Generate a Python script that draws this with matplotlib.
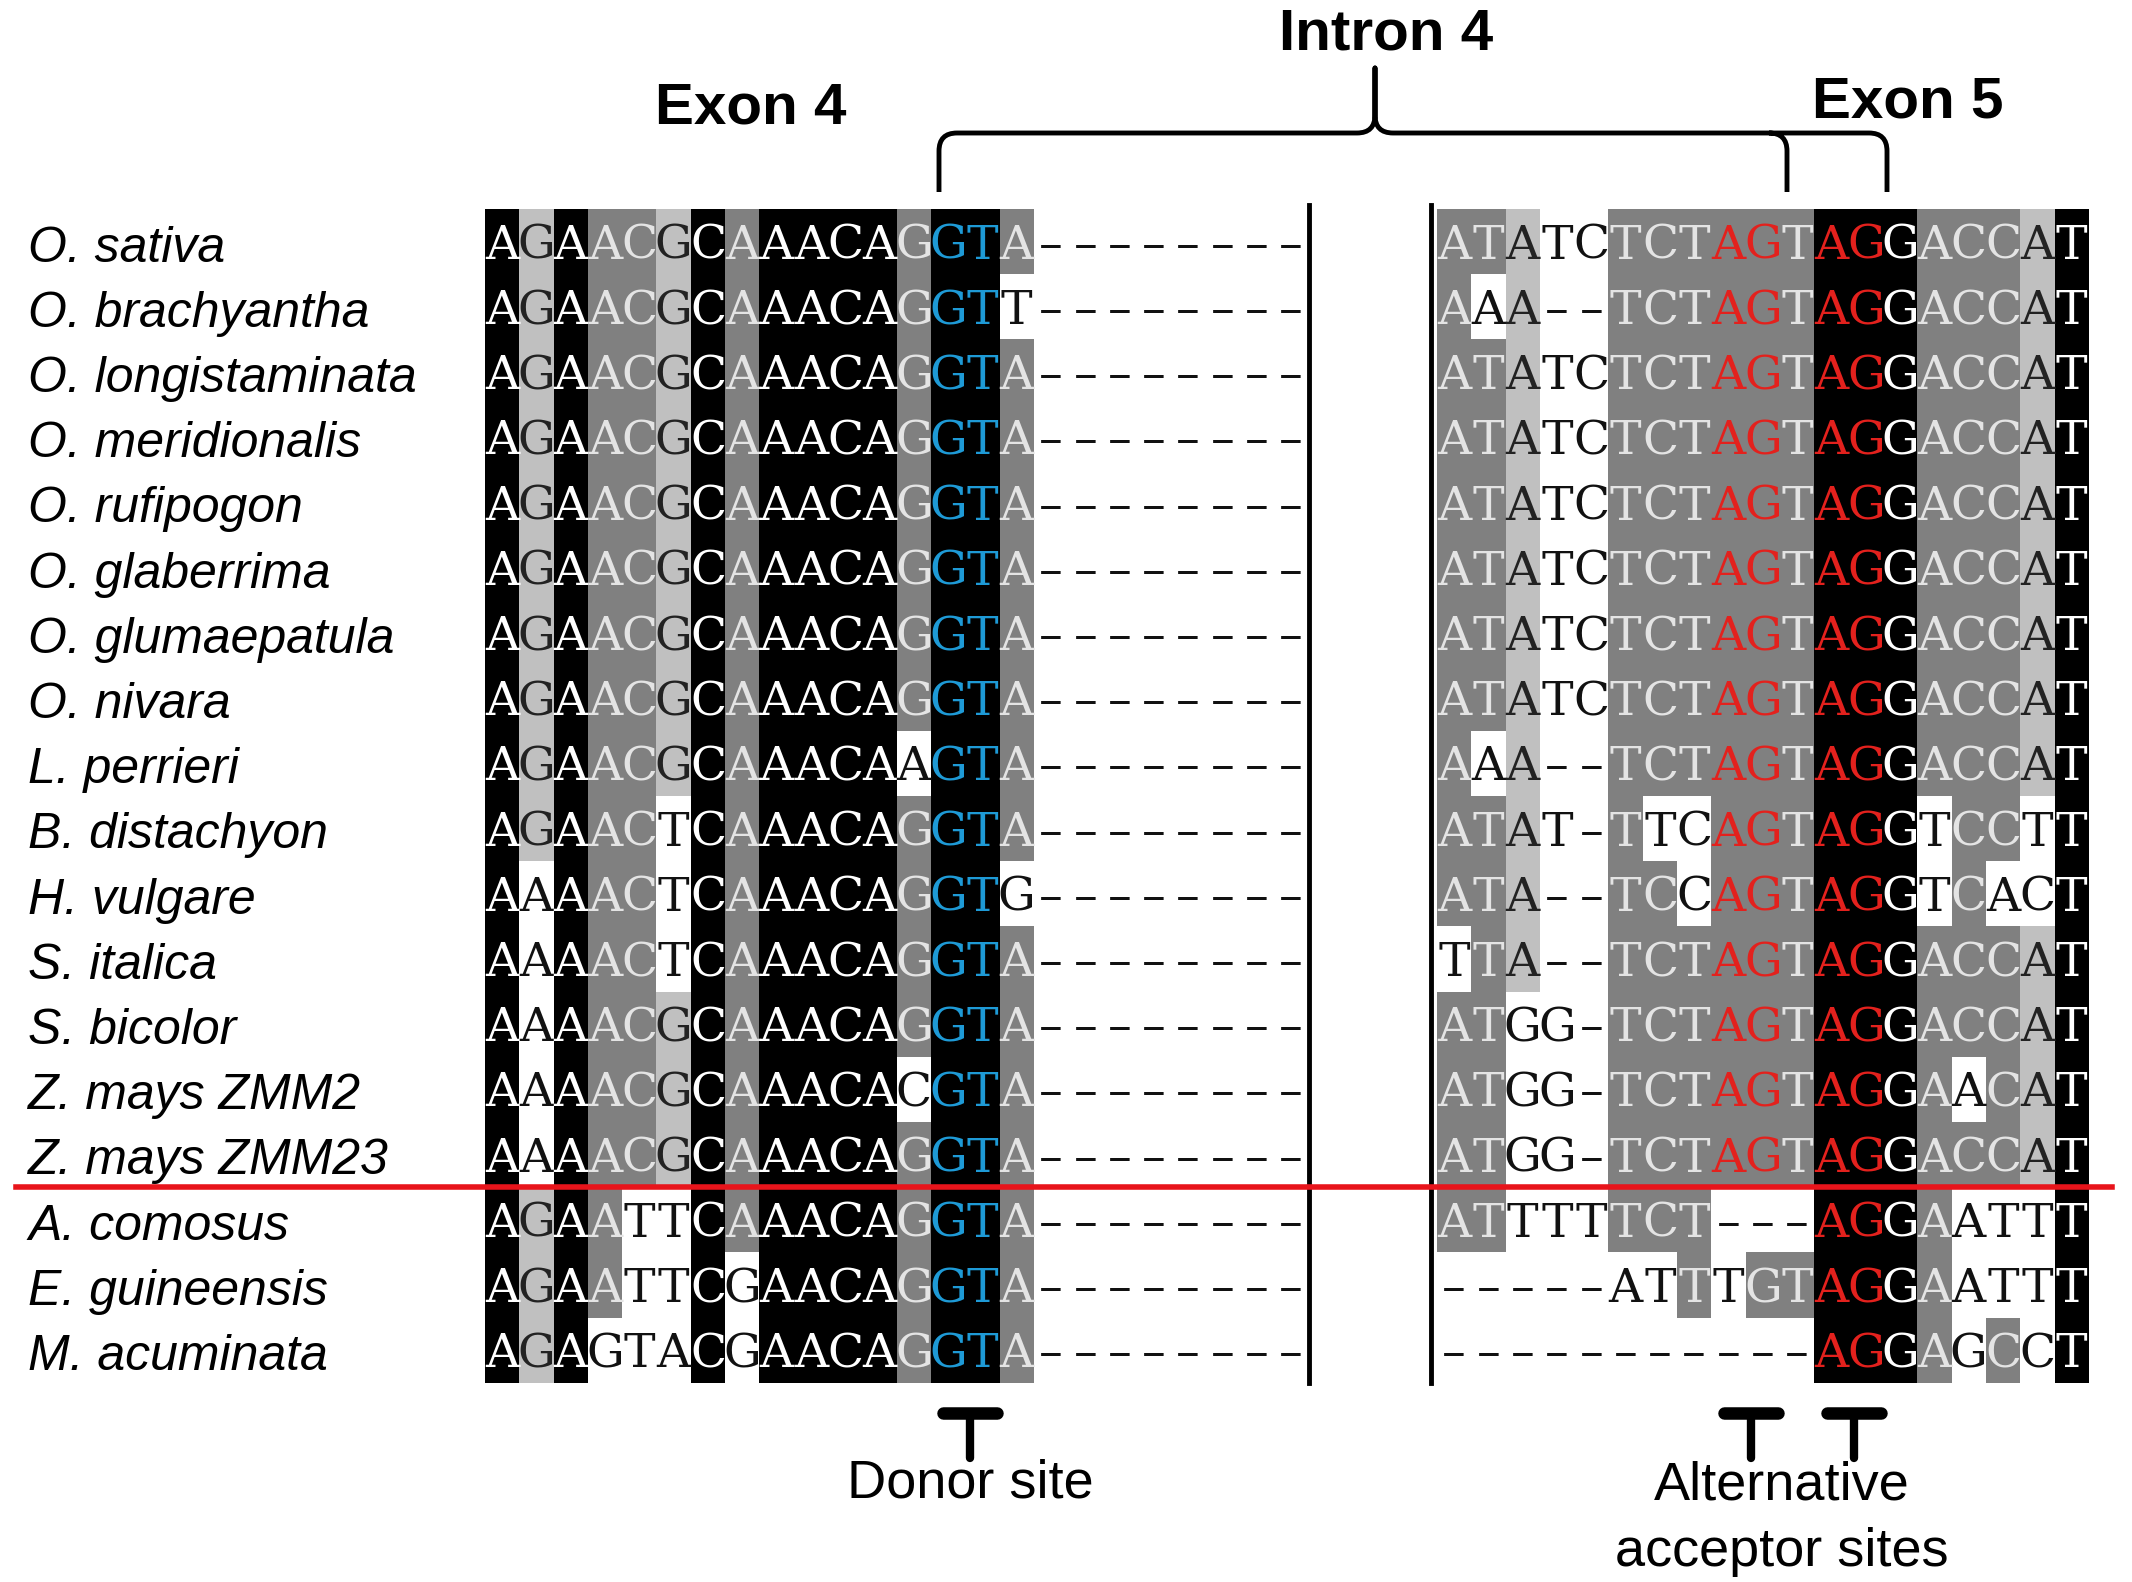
import numpy as np
import matplotlib.pyplot as plt
from matplotlib.colors import ListedColormap
from matplotlib.path import Path
from matplotlib.patches import PathPatch

species = ['O. sativa', 'O. brachyantha', 'O. longistaminata', 'O. meridionalis',
           'O. rufipogon', 'O. glaberrima', 'O. glumaepatula', 'O. nivara',
           'L. perrieri', 'B. distachyon', 'H. vulgare', 'S. italica', 'S. bicolor',
           'Z. mays ZMM2', 'Z. mays ZMM23', 'A. comosus', 'E. guineensis', 'M. acuminata']

# end of exon 4 + start of intron 4 (shading: K black, D dark grey, L light grey, W white)
left_seq = ['AGAACGCAAACAGGTA', 'AGAACGCAAACAGGTT', 'AGAACGCAAACAGGTA', 'AGAACGCAAACAGGTA',
            'AGAACGCAAACAGGTA', 'AGAACGCAAACAGGTA', 'AGAACGCAAACAGGTA', 'AGAACGCAAACAGGTA',
            'AGAACGCAAACAAGTA', 'AGAACTCAAACAGGTA', 'AAAACTCAAACAGGTG', 'AAAACTCAAACAGGTA',
            'AAAACGCAAACAGGTA', 'AAAACGCAAACACGTA', 'AAAACGCAAACAGGTA', 'AGAATTCAAACAGGTA',
            'AGAATTCGAACAGGTA', 'AGAGTACGAACAGGTA']
left_shade = ['KLKDDLKDKKKKDKKD', 'KLKDDLKDKKKKDKKW', 'KLKDDLKDKKKKDKKD', 'KLKDDLKDKKKKDKKD',
              'KLKDDLKDKKKKDKKD', 'KLKDDLKDKKKKDKKD', 'KLKDDLKDKKKKDKKD', 'KLKDDLKDKKKKDKKD',
              'KLKDDLKDKKKKWKKD', 'KLKDDWKDKKKKDKKD', 'KWKDDWKDKKKKDKKW', 'KWKDDWKDKKKKDKKD',
              'KWKDDLKDKKKKDKKD', 'KWKDDLKDKKKKWKKD', 'KWKDDLKDKKKKDKKD', 'KLKDWWKDKKKKDKKD',
              'KLKDWWKWKKKKDKKD', 'KLKWWWKWKKKKDKKD']
left_gap = '--------'

# end of intron 4 + start of exon 5
right_seq = ['ATATCTCTAGTAGGACCAT', 'AAA--TCTAGTAGGACCAT', 'ATATCTCTAGTAGGACCAT',
             'ATATCTCTAGTAGGACCAT', 'ATATCTCTAGTAGGACCAT', 'ATATCTCTAGTAGGACCAT',
             'ATATCTCTAGTAGGACCAT', 'ATATCTCTAGTAGGACCAT', 'AAA--TCTAGTAGGACCAT',
             'ATAT-TTCAGTAGGTCCTT', 'ATA--TCCAGTAGGTCACT', 'TTA--TCTAGTAGGACCAT',
             'ATGG-TCTAGTAGGACCAT', 'ATGG-TCTAGTAGGAACAT', 'ATGG-TCTAGTAGGACCAT',
             'ATTTTTCT---AGGAATTT', '-----ATTTGTAGGAATTT', '-----------AGGAGCCT']
right_shade = ['DDLWWDDDDDDKKKDDDLK', 'DWLWWDDDDDDKKKDDDLK', 'DDLWWDDDDDDKKKDDDLK',
               'DDLWWDDDDDDKKKDDDLK', 'DDLWWDDDDDDKKKDDDLK', 'DDLWWDDDDDDKKKDDDLK',
               'DDLWWDDDDDDKKKDDDLK', 'DDLWWDDDDDDKKKDDDLK', 'DWLWWDDDDDDKKKDDDLK',
               'DDLWWDWWDDDKKKWDDWK', 'DDLWWDDWDDDKKKWDWWK', 'WDLWWDDDDDDKKKDDDLK',
               'DDWWWDDDDDDKKKDDDLK', 'DDWWWDDDDDDKKKDWDLK', 'DDWWWDDDDDDKKKDDDLK',
               'DDWWWDDDWWWKKKDWWWK', 'WWWWWWWDWDDKKKDWWWK', 'WWWWWWWWWWWKKKDWDWK']

donor_col = 13            # GT in left block
acceptor_cols = [8, 11]   # AG pairs in right block
n_grass = 15              # rows above the red line

shade_index = {'W': 0, 'L': 1, 'D': 2, 'K': 3}
shade_cmap = ListedColormap(['white', '#c0c0c0', '#808080', 'black'])
text_col = {'W': '#111111', 'L': '#222222', 'D': '#e4e4e4', 'K': '#ffffff'}
blue = '#1e9ad6'
red = '#e3211d'

W, H = 2132, 1582
fig = plt.figure(figsize=(W / 100, H / 100), dpi=100)
ax = fig.add_axes([0, 0, 1, 1])

cw, rh = 34.3, 65.2
y0 = 209
left_x0, right_x0 = 485, 1437
fs = 34
cap = 0.729 * fs * 100 / 72
nrows = len(species)


def draw_block(x0, seqs, shades, special_cols, motif, special_color, tail=''):
    grid = np.array([[shade_index[s] for s in row] for row in shades])
    ncol = grid.shape[1]
    ax.imshow(grid, cmap=shade_cmap, vmin=0, vmax=3, aspect='auto', interpolation='nearest',
              extent=(x0, x0 + ncol * cw, y0 + nrows * rh, y0))
    for r, (seq, sh) in enumerate(zip(seqs, shades)):
        hot = set()
        for c in special_cols:
            if seq[c:c + 2] == motif:
                hot.update([c, c + 1])
        full = seq + tail
        for c, ch in enumerate(full):
            if c < len(seq):
                colr = special_color if c in hot else text_col[sh[c]]
            else:
                colr = '#111111'
            ax.text(x0 + (c + 0.5) * cw, y0 + (r + 0.5) * rh + cap / 2,
                    '–' if ch == '-' else ch, ha='center', va='baseline',
                    fontsize=fs, family='DejaVu Serif', color=colr)


draw_block(left_x0, left_seq, left_shade, [donor_col], 'GT', blue, tail=left_gap)
draw_block(right_x0, right_seq, right_shade, acceptor_cols, 'AG', red)

# species names
for r, name in enumerate(species):
    ax.text(28, y0 + (r + 0.5) * rh + 20, name, ha='left', va='baseline', fontsize=36,
            style='italic', family='Liberation Sans', color='black')

# intron cut lines
for xv in [1309, 1431]:
    ax.plot([xv, xv], [y0 - 4, y0 + nrows * rh], color='black', lw=3.5)

# red separator between grasses and other monocots
ysep = y0 + n_grass * rh
ax.plot([16, 2112], [ysep, ysep], color='#e8141b', lw=4)

# brace over intron 4
xl, xc, xt, xr = 939, 1375, 1787, 1887
yl, yb, ytop, rr = 133, 192, 68, 18
verts = [(xl, yb), (xl, yl + rr), (xl, yl), (xl + rr, yl), (xc - rr, yl), (xc, yl), (xc, yl - rr),
         (xc, ytop), (xc, yl - rr), (xc, yl), (xc + rr, yl), (xr - rr, yl), (xr, yl), (xr, yl + rr),
         (xr, yb),
         (xt - rr, yl), (xt, yl), (xt, yl + rr), (xt, yb)]
codes = [Path.MOVETO, Path.LINETO, Path.CURVE3, Path.CURVE3, Path.LINETO, Path.CURVE3, Path.CURVE3,
         Path.LINETO, Path.LINETO, Path.CURVE3, Path.CURVE3, Path.LINETO, Path.CURVE3, Path.CURVE3,
         Path.LINETO,
         Path.MOVETO, Path.CURVE3, Path.CURVE3, Path.LINETO]
ax.add_patch(PathPatch(Path(verts, codes), facecolor='none', edgecolor='black', lw=3.5,
                       capstyle='butt', joinstyle='round'))

ax.text(1386, 49, 'Intron 4', ha='center', va='baseline', fontsize=42, fontweight='bold',
        family='Liberation Sans')
ax.text(751, 123, 'Exon 4', ha='center', va='baseline', fontsize=42, fontweight='bold',
        family='Liberation Sans')
ax.text(1908, 118, 'Exon 5', ha='center', va='baseline', fontsize=42, fontweight='bold',
        family='Liberation Sans')

# splice site markers
site_x = [left_x0 + (donor_col + 1) * cw + 5] + [right_x0 + (c + 1) * cw + 5 for c in acceptor_cols]
for xs in site_x:
    ax.plot([xs - 27, xs + 27], [1413, 1413], color='black', lw=9, solid_capstyle='round')
    ax.plot([xs, xs], [1413, 1458], color='black', lw=6, solid_capstyle='round')

ax.text(site_x[0], 1498, 'Donor site', ha='center', va='baseline', fontsize=39,
        family='Liberation Sans')
ax.text(1782, 1500, 'Alternative', ha='center', va='baseline', fontsize=39,
        family='Liberation Sans')
ax.text(1782, 1566, 'acceptor sites', ha='center', va='baseline', fontsize=39,
        family='Liberation Sans')

ax.set_xlim(0, W)
ax.set_ylim(H, 0)
ax.axis('off')
fig.savefig('out.png', dpi=100)
